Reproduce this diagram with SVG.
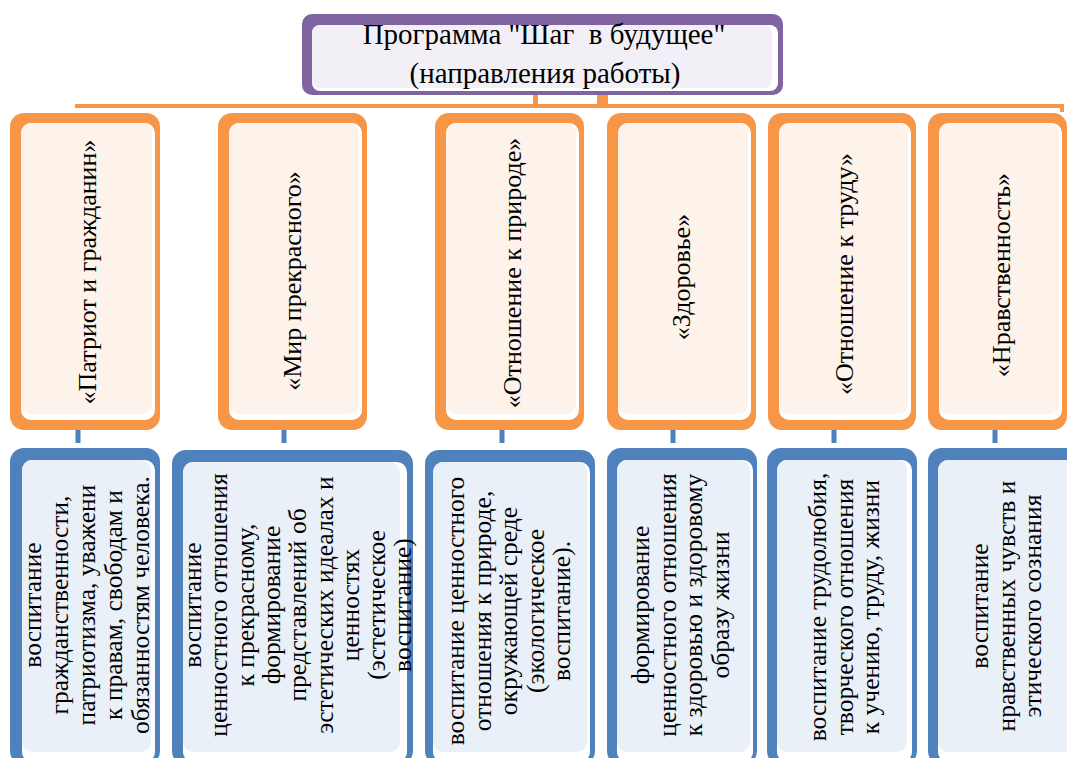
<svg xmlns="http://www.w3.org/2000/svg" width="1067" height="758" viewBox="0 0 1067 758">
<style>
.t{font-family:"Liberation Serif","Times New Roman",serif;fill:#000}
.tt{font-size:29px}
.ot{font-size:26px}
.bt{font-size:25.5px}
.oo{fill:#f79646}.of{fill:#fdf3ea}.w{fill:#fff}
.bo{fill:#4f81bd}.bf{fill:#eaf0f8}
.po{fill:#8064a2}.pf{fill:#f2f0f6}
.oc{stroke:#f79646;fill:none;stroke-width:4}
.bc{stroke:#4f81bd;stroke-width:5}
</style>
<rect width="1067" height="758" fill="#fff"/>
<g id="connectors">
<path class="oc" d="M75,106 H1062 V112"/>
<rect class="oo" x="533" y="92" width="5" height="14"/>
<rect class="oo" x="597" y="92" width="11" height="14"/>
<line class="bc" x1="78" y1="425" x2="78" y2="443"/>
<line class="bc" x1="284" y1="425" x2="284" y2="443"/>
<line class="bc" x1="502" y1="425" x2="502" y2="443"/>
<line class="bc" x1="673" y1="425" x2="673" y2="443"/>
<line class="bc" x1="834" y1="425" x2="834" y2="443"/>
<line class="bc" x1="995" y1="425" x2="995" y2="443"/>
</g>
<g id="title">
<rect class="po" x="302" y="14" width="481" height="81" rx="10"/>
<rect class="w" x="312" y="25" width="466" height="66" rx="8"/>
<rect class="pf" x="312" y="25" width="460" height="63" rx="8"/>
<text class="t tt" x="544" y="44" text-anchor="middle" xml:space="preserve">Программа "Шаг  в будущее"</text>
<text class="t tt" x="545" y="83" text-anchor="middle">(направления работы)</text>
</g>
<g id="o1">
<rect class="oo" x="10" y="113" width="150" height="317" rx="14"/>
<rect class="w" x="21" y="123" width="134" height="297" rx="10"/>
<rect class="of" x="21" y="123" width="131" height="291" rx="10"/>
<text class="t ot" transform="translate(96,272) rotate(-90)" text-anchor="middle">«Патриот и гражданин»</text>
</g>
<g id="o2">
<rect class="oo" x="218" y="113" width="149" height="317" rx="14"/>
<rect class="w" x="229" y="123" width="133" height="297" rx="10"/>
<rect class="of" x="229" y="123" width="130" height="291" rx="10"/>
<text class="t ot" transform="translate(301,281) rotate(-90)" text-anchor="middle">«Мир прекрасного»</text>
</g>
<g id="o3">
<rect class="oo" x="435" y="113" width="149" height="317" rx="14"/>
<rect class="w" x="446" y="123" width="133" height="297" rx="10"/>
<rect class="of" x="446" y="123" width="130" height="291" rx="10"/>
<text class="t ot" transform="translate(521,273) rotate(-90)" text-anchor="middle">«Отношение к природе»</text>
</g>
<g id="o4">
<rect class="oo" x="607" y="113" width="149" height="317" rx="14"/>
<rect class="w" x="618" y="123" width="133" height="297" rx="10"/>
<rect class="of" x="618" y="123" width="130" height="291" rx="10"/>
<text class="t ot" transform="translate(690,277) rotate(-90)" text-anchor="middle">«Здоровье»</text>
</g>
<g id="o5">
<rect class="oo" x="768" y="113" width="148" height="317" rx="14"/>
<rect class="w" x="779" y="123" width="132" height="297" rx="10"/>
<rect class="of" x="779" y="123" width="129" height="291" rx="10"/>
<text class="t ot" transform="translate(853,274) rotate(-90)" text-anchor="middle">«Отношение к труду»</text>
</g>
<g id="o6">
<rect class="oo" x="928" y="113" width="139" height="317" rx="14"/>
<rect class="w" x="939" y="123" width="123" height="297" rx="10"/>
<rect class="of" x="939" y="123" width="120" height="291" rx="10"/>
<text class="t ot" transform="translate(1010,275) rotate(-90)" text-anchor="middle">«Нравственность»</text>
</g>
<g id="b1">
<rect class="bo" x="10" y="448" width="150" height="317" rx="14"/>
<rect class="w" x="22" y="460" width="133" height="302" rx="10"/>
<rect class="bf" x="22" y="460" width="129" height="292" rx="10"/>
<text class="t bt" transform="translate(41,605) rotate(-90)" text-anchor="middle"><tspan x="0" dy="0">воспитание</tspan><tspan x="0" dy="27">гражданственности,</tspan><tspan x="0" dy="27">патриотизма, уважени</tspan><tspan x="0" dy="27">к правам, свободам и</tspan><tspan x="0" dy="27">обязанностям человека.</tspan></text>
</g>
<g id="b2">
<rect class="bo" x="172" y="450" width="241" height="315" rx="14"/>
<rect class="w" x="183" y="462" width="224" height="300" rx="10"/>
<rect class="bf" x="183" y="462" width="217" height="290" rx="10"/>
<text class="t bt" transform="translate(201,605) rotate(-90)" text-anchor="middle"><tspan x="0" dy="0">воспитание</tspan><tspan x="0" dy="26.3">ценностного отношения</tspan><tspan x="0" dy="26.3">к прекрасному,</tspan><tspan x="0" dy="26.3">формирование</tspan><tspan x="0" dy="26.3">представлений об</tspan><tspan x="0" dy="26.3">эстетических идеалах и</tspan><tspan x="0" dy="26.3">ценностях</tspan><tspan x="0" dy="26.3">(эстетическое</tspan><tspan x="0" dy="26.3">воспитание)</tspan></text>
</g>
<g id="b3">
<rect class="bo" x="425" y="450" width="170" height="315" rx="14"/>
<rect class="w" x="433" y="462" width="157" height="300" rx="10"/>
<rect class="bf" x="433" y="462" width="154" height="290" rx="10"/>
<text class="t bt" transform="translate(464,611) rotate(-90)" text-anchor="middle"><tspan x="0" dy="0">воспитание ценностного</tspan><tspan x="0" dy="26.5">отношения к природе,</tspan><tspan x="0" dy="26.5">окружающей среде</tspan><tspan x="0" dy="26.5">(экологическое</tspan><tspan x="0" dy="26.5">воспитание).</tspan></text>
</g>
<g id="b4">
<rect class="bo" x="607" y="448" width="150" height="317" rx="14"/>
<rect class="w" x="617" y="460" width="136" height="302" rx="10"/>
<rect class="bf" x="617" y="460" width="133" height="292" rx="10"/>
<text class="t bt" transform="translate(649,605) rotate(-90)" text-anchor="middle"><tspan x="0" dy="0">формирование</tspan><tspan x="0" dy="26.7">ценностного отношения</tspan><tspan x="0" dy="26.7">к здоровью и здоровому</tspan><tspan x="0" dy="26.7">образу жизни</tspan></text>
</g>
<g id="b5">
<rect class="bo" x="767" y="448" width="150" height="317" rx="14"/>
<rect class="w" x="777" y="460" width="135" height="302" rx="10"/>
<rect class="bf" x="777" y="460" width="130" height="292" rx="10"/>
<text class="t bt" transform="translate(826,607) rotate(-90)" text-anchor="middle"><tspan x="0" dy="0">воспитание трудолюбия,</tspan><tspan x="0" dy="26.5">творческого отношения</tspan><tspan x="0" dy="26.5">к учению, труду, жизни</tspan></text>
</g>
<g id="b6">
<rect class="bo" x="928" y="448" width="152" height="317" rx="14"/>
<rect class="w" x="938" y="460" width="138" height="302" rx="10"/>
<rect class="bf" x="938" y="460" width="135" height="292" rx="10"/>
<text class="t bt" transform="translate(988,606) rotate(-90)" text-anchor="middle"><tspan x="0" dy="0">воспитание</tspan><tspan x="0" dy="26.5">нравственных чувств и</tspan><tspan x="0" dy="26.5">этического сознания</tspan></text>
</g>
</svg>
